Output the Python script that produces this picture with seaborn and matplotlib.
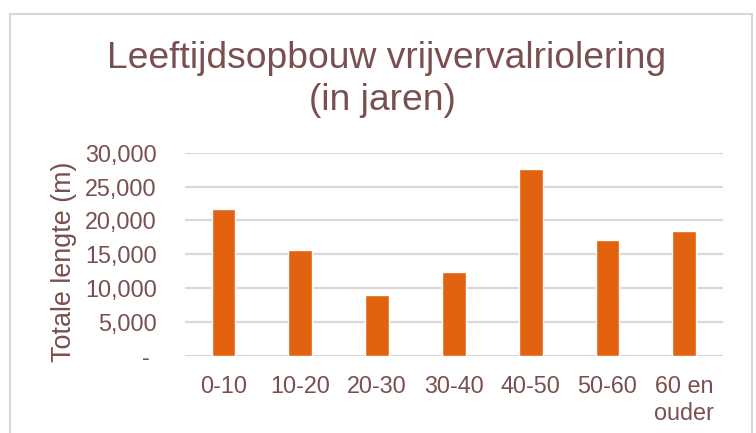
import matplotlib
matplotlib.use("Agg")
import matplotlib.pyplot as plt
import matplotlib.patches as patches
from matplotlib.ticker import FuncFormatter
import pandas as pd
import seaborn as sns

categories = ['0-10', '10-20', '20-30', '30-40', '40-50', '50-60', '60 en\nouder']
lengths = [21700, 15600, 8900, 12300, 27600, 17100, 18400]
yticks = [0, 5000, 10000, 15000, 20000, 25000, 30000]

text_col = '#7A4F4F'
grid_col = '#E2D5D5'
bar_col = '#E36210'

sns.set_style('white')
plt.rcParams['font.family'] = ['Liberation Sans', 'DejaVu Sans']

df = pd.DataFrame({'Leeftijd': categories, 'Lengte': lengths})

W, H = 756, 433
fig = plt.figure(figsize=(W / 100, H / 100), dpi=100)
# chart frame
fig.patches.append(patches.Rectangle((10 / W, -0.05), 742 / W, 1 - 14 / H + 0.05,
                                     transform=fig.transFigure, fill=False,
                                     edgecolor='#E0D3D3', lw=1.5))
ax = fig.add_axes([185 / W, 1 - 355.7 / H, (722.7 - 185) / W, (355.7 - 152.7) / H])
sns.barplot(data=df, x='Leeftijd', y='Lengte', color=bar_col, width=0.31,
            saturation=1, ax=ax, zorder=3)
ax.set_ylim(0, 30000)
ax.set_yticks(yticks)
ax.yaxis.set_major_formatter(FuncFormatter(lambda v, p: '- ' if v == 0 else f'{int(v):,}'))
ax.grid(axis='y', color=grid_col, lw=1.6, zorder=0)
ax.set_axisbelow(True)
for s in ax.spines.values():
    s.set_visible(False)
ax.tick_params(axis='both', length=0, labelsize=16.8, colors=text_col)
ax.tick_params(axis='y', pad=20.4)
ax.tick_params(axis='x', pad=13.6)
for lab in ax.get_xticklabels():
    lab.set_linespacing(1.25)
ax.set_xlabel('')
ax.set_ylabel('Totale lengte (m)', fontsize=19.4, color=text_col)
ax.yaxis.set_label_coords((63.7 - 185) / (722.7 - 185), (355.7 - 261.7) / 203)
ax.yaxis.label.set_verticalalignment('center')

# title, two lines
fig.text(387 / W, 1 - 68.3 / H, 'Leeftijdsopbouw vrijvervalriolering', ha='center',
         va='baseline', fontsize=26.8, color=text_col)
fig.text(382 / W, 1 - 110 / H, '(in jaren)', ha='center', va='baseline',
         fontsize=26.8, color=text_col)

fig.savefig('out.png', dpi=100)
